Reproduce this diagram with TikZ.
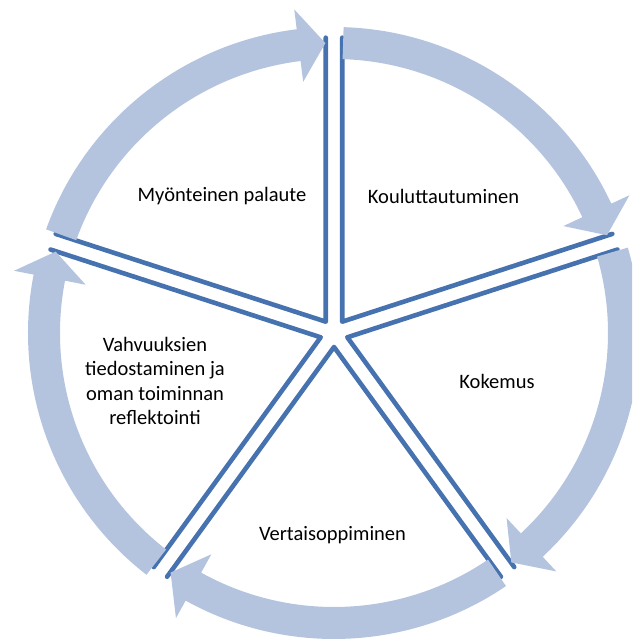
\documentclass[tikz,border=0pt]{standalone}
\usepackage{fontspec}
\setmainfont{Carlito}
\usetikzlibrary{calc}
\definecolor{spokeblue}{RGB}{70,114,176}
\definecolor{ringblue}{RGB}{180,196,223}
\begin{document}
\begin{tikzpicture}[x=1pt,y=1pt,
  spoke/.style={draw=spokeblue, line width=4.6pt, line cap=round, line join=round},
  ringarrow/.style={fill=ringblue, draw=none},
  lbl/.style={font=\fontsize{20.5}{24.5}\selectfont, align=center, inner sep=0pt}]
\useasboundingbox (0,0) rectangle (632,639);
\clip (0,0) rectangle (632,639);
\coordinate (C) at (334,306);
\foreach \ang in {90,18,-54,-126,-198} {
  \pgfmathsetmacro{\bis}{\ang-36}
  \pgfmathsetmacro{\endang}{\ang-72}
  \draw[spoke] ($(C)+(\bis:14)+(\ang:284)$) -- ($(C)+(\bis:14)$) -- ($(C)+(\bis:14)+(\endang:284)$);
}
\foreach \ang in {90,18,-54,-126,-198} {
  \pgfmathsetmacro{\sang}{\ang-1.8}
  \pgfmathsetmacro{\tang}{\ang-72+1.7}
  \pgfmathsetmacro{\hang}{\tang+5.3}
  \fill[ringarrow] ($(C)+(\sang:306)$) arc[start angle=\sang, end angle=\hang, radius=306]
     -- ($(C)+(\hang:326)$) -- ($(C)+(\tang:290)$) -- ($(C)+(\hang:253)$)
     -- ($(C)+(\hang:274)$) arc[start angle=\hang, end angle=\sang, radius=274] -- cycle;
}
\node[lbl] (koul) at (443.5,443) {Kouluttautuminen};
\node[lbl] (koke) at (497,258) {Kokemus};
\node[lbl] (vert) at (332.5,104) {Vertaisoppiminen};
\node[lbl] (vahv) at (155,258) {Vahvuuksien\\tiedostaminen ja\\oman toiminnan\\reflektointi};
\node[lbl] (myon) at (222,443) {Myönteinen palaute};
\end{tikzpicture}
\end{document}
